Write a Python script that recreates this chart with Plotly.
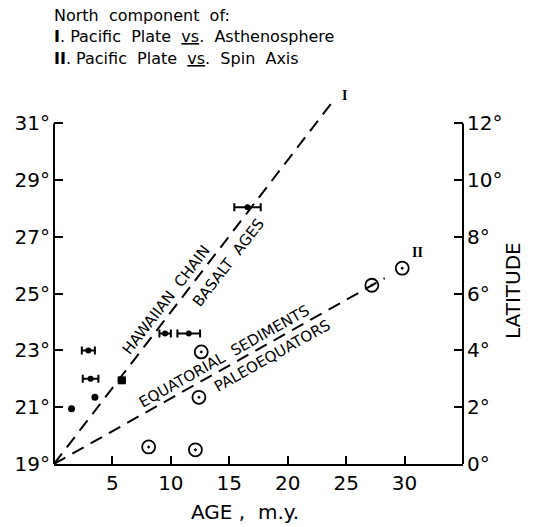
import plotly.graph_objects as go

# ---- data ----
# Hawaiian chain basalt ages: filled dots without error bars
DOT_AGE = [1.5, 3.5]
DOT_LAT = [20.95, 21.35]
# filled dots with horizontal age error bars
BAR_AGE = [2.94, 3.13, 9.51, 11.53, 16.56]
BAR_LAT = [23.0, 22.0, 23.6, 23.6, 28.05]
BAR_ERR = [0.56, 0.67, 0.49, 0.97, 1.13]
# filled square point
SQ_AGE = [5.8]
SQ_LAT = [21.95]
SQ_ERR = [0.25]
# equatorial sediments / paleoequators: open circles
CIRC_AGE = [8.1, 12.1, 12.4, 12.6, 27.2, 29.8]
CIRC_LAT = [19.6, 19.5, 21.35, 22.95, 25.3, 25.9]
# trend lines
LINE_I_AGE = [0, 23.75]
LINE_I_LAT = [19, 31.72]
LINE_II_AGE = [0, 28.3]
LINE_II_LAT = [19, 25.55]

X_TICKS = [5, 10, 15, 20, 25, 30]
Y_TICKS = [19, 21, 23, 25, 27, 29, 31]
Y_TICKTEXT = [f"{v}°" for v in Y_TICKS]
LAT_TICKS = [0, 2, 4, 6, 8, 10, 12]
LAT_TICKTEXT = [f"{v}°" for v in LAT_TICKS]

X_MIN, X_MAX = 0, 35
Y_MIN, Y_MAX = 19, 32.18
Y_AXIS_TOP = 31

FONT = "DejaVu Sans"
BLACK = "black"

fig = go.Figure()

dash = "13px,8px"
fig.add_trace(go.Scatter(x=LINE_I_AGE, y=LINE_I_LAT, mode="lines",
                         line=dict(color=BLACK, width=2, dash=dash), hoverinfo="skip"))
fig.add_trace(go.Scatter(x=LINE_II_AGE, y=LINE_II_LAT, mode="lines",
                         line=dict(color=BLACK, width=2, dash=dash), hoverinfo="skip"))

fig.add_trace(go.Scatter(x=DOT_AGE, y=DOT_LAT, mode="markers",
                         marker=dict(symbol="circle", size=7, color=BLACK)))
fig.add_trace(go.Scatter(x=BAR_AGE, y=BAR_LAT, mode="markers",
                         marker=dict(symbol="circle", size=6, color=BLACK),
                         error_x=dict(type="data", array=BAR_ERR, color=BLACK,
                                      thickness=2, width=4)))
fig.add_trace(go.Scatter(x=SQ_AGE, y=SQ_LAT, mode="markers",
                         marker=dict(symbol="square", size=8, color=BLACK),
                         error_x=dict(type="data", array=SQ_ERR, color=BLACK,
                                      thickness=2, width=3)))
fig.add_trace(go.Scatter(x=CIRC_AGE, y=CIRC_LAT, mode="markers",
                         marker=dict(symbol="circle-open-dot", size=13, color=BLACK,
                                     line=dict(width=1.8, color=BLACK))))
# helper so the right-hand latitude axis is drawn
fig.add_trace(go.Scatter(x=[None], y=[None], yaxis="y2", mode="markers",
                         hoverinfo="skip"))

frac = (Y_AXIS_TOP - Y_MIN) / (Y_MAX - Y_MIN)
shapes = [
    dict(type="line", xref="paper", yref="paper", x0=0, x1=0, y0=0, y1=frac,
         line=dict(color=BLACK, width=2)),
    dict(type="line", xref="paper", yref="paper", x0=1, x1=1, y0=0, y1=frac,
         line=dict(color=BLACK, width=2)),
]

ann = []
def txt(text, x, y, size, angle=0, xref="x", yref="y", xanchor="center",
        yanchor="middle", family=FONT):
    ann.append(dict(text=text, x=x, y=y, xref=xref, yref=yref, showarrow=False,
                    textangle=angle, xanchor=xanchor, yanchor=yanchor,
                    font=dict(family=family, size=size, color=BLACK)))

ang1 = -52.4
ang2 = -29.35
txt("HAWAIIAN  CHAIN", 9.6, 24.78, 15, ang1)
txt("BASALT  AGES", 14.89, 26.10, 15, ang1)
txt("EQUATORIAL  SEDIMENTS", 14.63, 22.79, 15, ang2)
txt("PALEOEQUATORS", 18.65, 22.82, 15, ang2)
txt("<b>I</b>", 24.87, 32.0, 14, family="Liberation Serif")
txt("<b>II</b>", 31.1, 26.44, 14, family="Liberation Serif")

# header block
txt("North  component  of:", -0.005, 1.20, 16, xref="paper", yref="paper", xanchor="left")
txt("<b>I</b>. Pacific  Plate  <u>vs</u>.  Asthenosphere", -0.005, 1.142, 16,
    xref="paper", yref="paper", xanchor="left")
txt("<b>II</b>. Pacific  Plate  <u>vs</u>.  Spin  Axis", -0.005, 1.085, 16,
    xref="paper", yref="paper", xanchor="left")

txt("AGE ,  m.y.", 0.467, -0.128, 20, xref="paper", yref="paper")
txt("LATITUDE", 1.122, 0.465, 20, angle=-90, xref="paper", yref="paper")

fig.update_layout(
    width=533, height=527,
    margin=dict(l=54, r=70.3, t=90, b=63),
    paper_bgcolor="white", plot_bgcolor="white",
    showlegend=False,
    font=dict(family=FONT, color=BLACK),
    shapes=shapes, annotations=ann,
    xaxis=dict(range=[X_MIN, X_MAX], tickvals=X_TICKS, ticks="inside", ticklen=8,
               tickwidth=2, tickcolor=BLACK, showline=True, linewidth=2,
               linecolor=BLACK, showgrid=False, zeroline=False,
               tickfont=dict(size=20, family=FONT), ticklabelstandoff=0),
    yaxis=dict(range=[Y_MIN, Y_MAX], tickvals=Y_TICKS, ticktext=Y_TICKTEXT,
               ticks="inside", ticklen=9, tickwidth=2, tickcolor=BLACK,
               showline=False, showgrid=False, zeroline=False,
               tickfont=dict(size=20, family=FONT), ticklabelstandoff=3),
    yaxis2=dict(range=[Y_MIN - 19, Y_MAX - 19], overlaying="y", side="right",
                tickvals=LAT_TICKS, ticktext=LAT_TICKTEXT, ticks="inside",
                ticklen=9, tickwidth=2, tickcolor=BLACK, showline=False,
                showgrid=False, zeroline=False,
                tickfont=dict(size=20, family=FONT), ticklabelstandoff=3),
)

fig.write_html("out.html")
